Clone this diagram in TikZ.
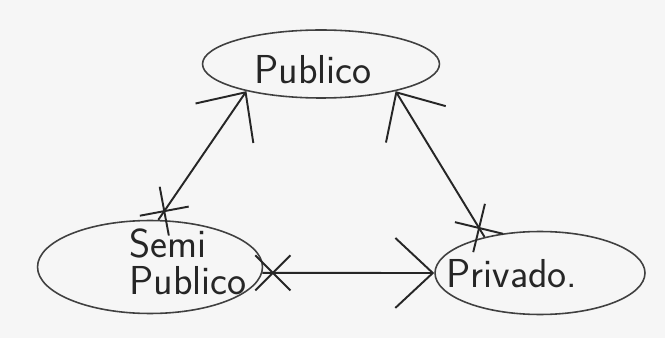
\documentclass[tikz,border=0pt]{standalone}
\usepackage{tikz}
\usetikzlibrary{arrows.meta,shapes.geometric,decorations.markings}

\begin{document}
\begin{tikzpicture}[
    x=0.02cm,
    y=0.02cm,
    entity/.style={draw=black!75, line width=0.9pt, ellipse, inner sep=0pt},
    lbl/.style={font=\fontsize{23}{21}\selectfont\sffamily, align=left, text=black!85},
    rel/.style={line width=1.1pt, draw=black!85, -{Straight Barb[length=0.75cm,width=1.4cm]}},
    xend/.style={postaction={decorate,decoration={markings,
      mark=at position 6pt with {\draw[-] (-10pt,-10pt) -- (10pt,10pt) (-10pt,10pt) -- (10pt,-10pt);}}}}
]
% paper
\fill[gray!7] (0,0) rectangle (665,338);
\useasboundingbox (0,0) rectangle (665,338);

% entities
\node[entity, minimum width=4.74cm, minimum height=1.36cm] (pub) at (321,274) {};
\node[entity, minimum width=4.5cm, minimum height=1.86cm] (semi) at (150,71) {};
\node[entity, minimum width=4.2cm, minimum height=1.66cm] (priv) at (540,65) {};

\node[lbl] (pub-txt) at (313,268) {Publico};
\node[lbl] (semi-txt) at (188,76) {Semi\\Publico};
\node[lbl] (priv-txt) at (512,64) {Privado.};

% relations
\draw[rel, xend] (semi.80) -- (pub.200);
\draw[rel, xend] (priv.147) -- (pub.340);
\draw[rel, xend] (semi.-3) -- (priv.west);
\end{tikzpicture}
\end{document}
